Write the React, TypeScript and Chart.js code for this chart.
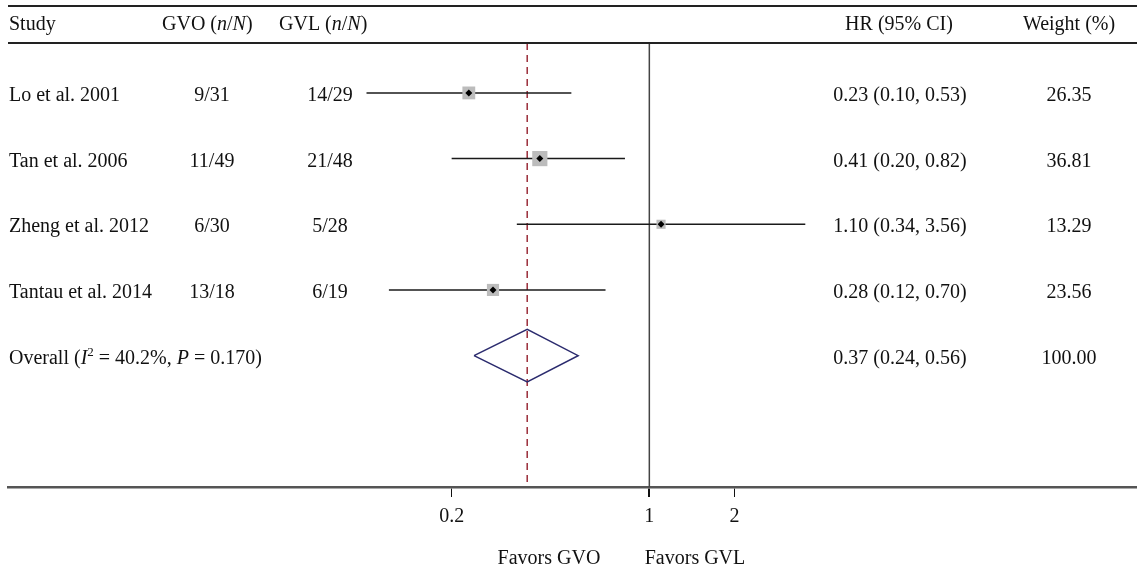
import React, { useEffect, useRef } from "react";
import { Chart, registerables } from "chart.js";

Chart.register(...registerables);

const studies = ["Lo et al. 2001", "Tan et al. 2006", "Zheng et al. 2012", "Tantau et al. 2014"];
const gvoCounts = ["9/31", "11/49", "6/30", "13/18"];
const gvlCounts = ["14/29", "21/48", "5/28", "6/19"];
const hrValues = [0.23, 0.41, 1.1, 0.28];
const ciLow = [0.1, 0.2, 0.34, 0.12];
const ciHigh = [0.53, 0.82, 3.56, 0.7];
const weights = [26.35, 36.81, 13.29, 23.56];
const overallHR = 0.37;
const overallLow = 0.24;
const overallHigh = 0.56;
const overallWeight = 100.0;
const xTicks = [0.2, 1, 2];
const xTickLabels = ["0.2", "1", "2"];
const favorLabels = ["Favors GVO", "Favors GVL"];

const FAMILY = '"Liberation Serif", "DejaVu Serif", serif';
const FONT = `20px ${FAMILY}`;
const ITALIC = `italic 20px ${FAMILY}`;

function drawRich(ctx: CanvasRenderingContext2D, parts: { t: string; f?: string; dy?: number }[], x: number, y: number) {
  let cx = x;
  for (const p of parts) {
    ctx.font = p.f || FONT;
    ctx.fillText(p.t, cx, y + (p.dy || 0));
    cx += ctx.measureText(p.t).width;
  }
}

const tablePlugin = {
  id: "tablePlugin",
  afterDraw(chart: any) {
    const ctx: CanvasRenderingContext2D = chart.ctx;
    const ya = chart.scales.y;
    const area = chart.chartArea;
    ctx.save();
    ctx.strokeStyle = "#222";
    ctx.lineWidth = 2;
    ctx.beginPath();
    ctx.moveTo(8, area.top - 37);
    ctx.lineTo(1137, area.top - 37);
    ctx.moveTo(8, area.top);
    ctx.lineTo(1137, area.top);
    ctx.stroke();

    ctx.fillStyle = "#111";
    ctx.textBaseline = "alphabetic";
    const hy = 30;
    ctx.textAlign = "left";
    ctx.font = FONT;
    ctx.fillText("Study", 9, hy);
    drawRich(ctx, [{ t: "GVO (" }, { t: "n", f: ITALIC }, { t: "/" }, { t: "N", f: ITALIC }, { t: ")" }], 162, hy);
    drawRich(ctx, [{ t: "GVL (" }, { t: "n", f: ITALIC }, { t: "/" }, { t: "N", f: ITALIC }, { t: ")" }], 279, hy);
    ctx.textAlign = "center";
    ctx.font = FONT;
    ctx.fillText("HR (95% CI)", 899, hy);
    ctx.fillText("Weight (%)", 1069, hy);

    studies.forEach((s, i) => {
      const y = ya.getPixelForValue(i + 1) + 8;
      ctx.font = FONT;
      ctx.textAlign = "left";
      ctx.fillText(s, 9, y);
      ctx.textAlign = "center";
      ctx.fillText(gvoCounts[i], 212, y);
      ctx.fillText(gvlCounts[i], 330, y);
      ctx.fillText(
        `${hrValues[i].toFixed(2)} (${ciLow[i].toFixed(2)}, ${ciHigh[i].toFixed(2)})`,
        900,
        y
      );
      ctx.fillText(weights[i].toFixed(2), 1069, y);
    });

    const oy = ya.getPixelForValue(studies.length + 1) + 8;
    ctx.textAlign = "left";
    drawRich(
      ctx,
      [
        { t: "Overall (" },
        { t: "I", f: ITALIC },
        { t: "2", f: `13px ${FAMILY}`, dy: -8 },
        { t: " = 40.2%, " },
        { t: "P", f: ITALIC },
        { t: " = 0.170)" },
      ],
      9,
      oy
    );
    ctx.font = FONT;
    ctx.textAlign = "center";
    ctx.fillText(`${overallHR.toFixed(2)} (${overallLow.toFixed(2)}, ${overallHigh.toFixed(2)})`, 900, oy);
    ctx.fillText(overallWeight.toFixed(2), 1069, oy);

    ctx.fillText(favorLabels[0], 549, 564);
    ctx.fillText(favorLabels[1], 695, 564);
    ctx.restore();
  },
};

export default function App() {
  const ref = useRef<HTMLCanvasElement | null>(null);
  useEffect(() => {
    if (!ref.current) return;
    const nRows = studies.length;
    const ciSets = studies.map((s, i) => ({
      type: "line" as const,
      label: s + " CI",
      data: [
        { x: ciLow[i], y: i + 1 },
        { x: ciHigh[i], y: i + 1 },
      ],
      borderColor: "#1a1a1a",
      borderWidth: 1.5,
      pointRadius: 0,
      order: 3,
    }));
    const yMin = 0.24;
    const yMax = 7;
    const chart = new Chart(ref.current, {
      type: "scatter",
      data: {
        datasets: [
          {
            type: "line",
            label: "null",
            data: [
              { x: 1, y: yMin },
              { x: 1, y: yMax },
            ],
            borderColor: "#444",
            borderWidth: 1.5,
            pointRadius: 0,
            order: 5,
          },
          {
            type: "line",
            label: "overall dashed",
            data: [
              { x: overallHR, y: yMin },
              { x: overallHR, y: yMax },
            ],
            borderColor: "#9b2d3a",
            borderWidth: 1.5,
            borderDash: [7, 5],
            pointRadius: 0,
            order: 4,
          },
          ...ciSets,
          {
            type: "scatter",
            label: "weights",
            data: hrValues.map((v, i) => ({ x: v, y: i + 1 })),
            pointStyle: "rect",
            pointRadius: (c: any) => (2.5 * Math.sqrt(weights[c.dataIndex] || 0)) / Math.SQRT2,
            backgroundColor: "#bcbcbc",
            borderWidth: 0,
            order: 2,
          },
          {
            type: "scatter",
            label: "points",
            data: hrValues.map((v, i) => ({ x: v, y: i + 1 })),
            pointStyle: "rectRot",
            pointRadius: 3.5,
            backgroundColor: "#000",
            borderWidth: 0,
            order: 1,
          },
          {
            type: "line",
            label: "diamond",
            data: [
              { x: overallLow, y: nRows + 1 },
              { x: overallHR, y: nRows + 1 - 0.4 },
              { x: overallHigh, y: nRows + 1 },
              { x: overallHR, y: nRows + 1 + 0.4 },
              { x: overallLow, y: nRows + 1 },
            ],
            borderColor: "#2b2b6e",
            borderWidth: 1.5,
            pointRadius: 0,
            tension: 0,
            order: 1,
          },
        ] as any,
      },
      options: {
        animation: false,
        responsive: true,
        maintainAspectRatio: false,
        layout: { autoPadding: false, padding: { top: 43, left: 8, right: 0, bottom: 0 } },
        plugins: { legend: { display: false }, tooltip: { enabled: false } },
        scales: {
          x: {
            type: "logarithmic",
            min: 0.0054,
            max: 53,
            afterBuildTicks: (axis: any) => {
              axis.ticks = xTicks.map((v) => ({ value: v }));
            },
            afterFit: (axis: any) => {
              axis.height = 84;
              axis.paddingLeft = 0;
              axis.paddingRight = 0;
            },
            ticks: {
              autoSkip: false,
              maxRotation: 0,
              padding: 8,
              color: "#111",
              font: { family: FAMILY, size: 20 },
              callback: (v: any) => {
                const idx = xTicks.indexOf(Number(v));
                return idx >= 0 ? xTickLabels[idx] : "";
              },
            },
            grid: {
              drawOnChartArea: false,
              drawTicks: true,
              tickLength: 10,
              color: "#111",
              lineWidth: (c: any) => (c.tick && c.tick.value === 1 ? 2 : 1),
            },
            border: { display: true, color: "#555", width: 2.5 },
          },
          y: {
            type: "linear",
            display: false,
            min: yMin,
            max: yMax,
            reverse: true,
          },
        },
      },
      plugins: [tablePlugin],
    });
    return () => chart.destroy();
  }, []);
  return (
    <div style={{ position: "absolute", left: 0, top: 0, width: 1137, height: 571, background: "#fff" }}>
      <canvas ref={ref} />
    </div>
  );
}
